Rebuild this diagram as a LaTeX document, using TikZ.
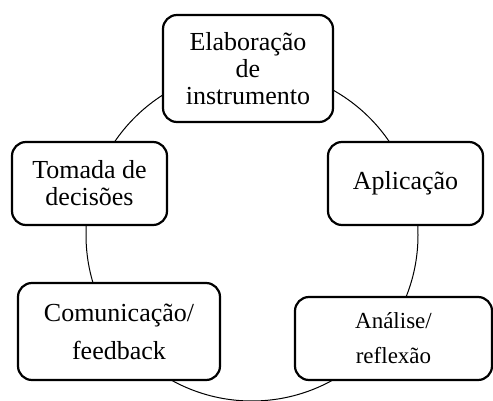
\documentclass[tikz,border=0pt]{standalone}
\usepackage{fontspec}
\setmainfont{Liberation Serif}

\tikzset{
	etapa/.style = {
		draw, rectangle, rounded corners=14pt, fill=white,
		line width=2.2pt, inner sep=0pt, align=center,
		font=\fontsize{26}{27}\selectfont},
	ciclo/.style = {line width=1pt, black}
}

\begin{document}
\begin{tikzpicture}[x=1pt,y=-1pt]
		%\draw[help lines] (0,0) grid (493,401);
		\useasboundingbox (0,0) rectangle (493,401);

		% ciclo
		\coordinate (centro) at (252,235);
		\draw[ciclo] (centro) circle[radius=166pt];

		% etapas
		\node[etapa, minimum width=170pt, minimum height=107pt] (elab) at (248,68.5) {Elaboração\\de\\instrumento};
		\node[etapa, minimum width=155pt, minimum height=83pt] (aplic) at (405.5,183.5) {Aplicação};
		\node[etapa, minimum width=197pt, minimum height=83pt,
			font=\fontsize{23}{35}\selectfont] (anal) at (393.5,338.5) {Análise/\\reflexão};
		\node[etapa, minimum width=202pt, minimum height=97pt,
			font=\fontsize{26}{38}\selectfont] (comun) at (119,331.5) {Comunicação/\\feedback};
		\node[etapa, minimum width=155pt, minimum height=83pt] (tomada) at (89.5,183.5) {Tomada de\\decisões};
\end{tikzpicture}
\end{document}
